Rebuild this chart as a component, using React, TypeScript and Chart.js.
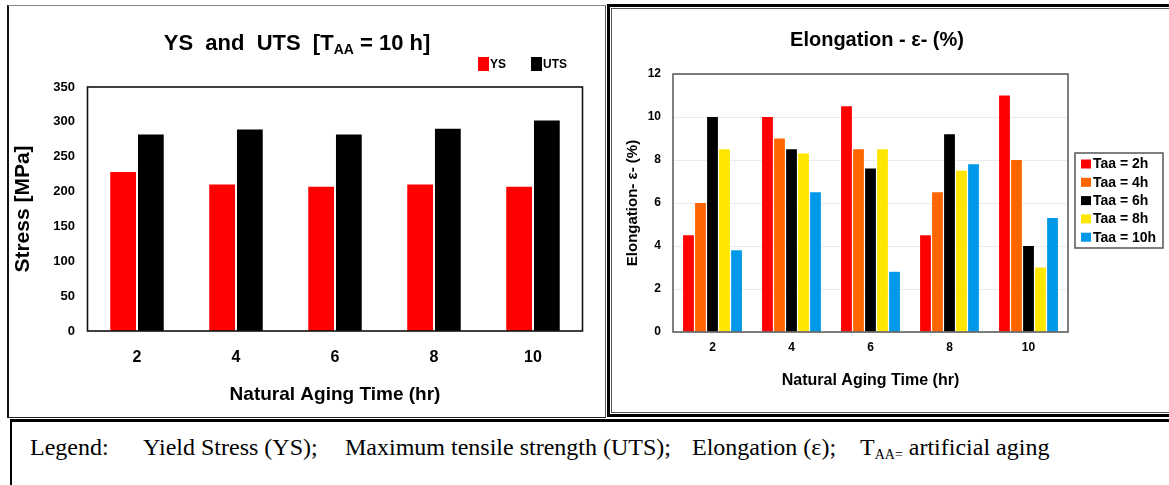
import React, { useEffect, useRef } from "react";
import { Chart, registerables } from "chart.js";

Chart.register(...registerables);

const FONT = "'Liberation Sans', Arial, Helvetica, sans-serif";
const SERIF = "'Liberation Serif', 'Times New Roman', serif";

// ---------- data ----------
const categories = ["2", "4", "6", "8", "10"];

const ysValues = [228, 210, 207, 210, 207];
const utsValues = [282, 289, 282, 290, 302];

const elongLabels = ["Taa = 2h", "Taa = 4h", "Taa = 6h", "Taa = 8h", "Taa = 10h"];
const elong2h = [4.5, 10, 10.5, 4.5, 11];
const elong4h = [6, 9, 8.5, 6.5, 8];
const elong6h = [10, 8.5, 7.6, 9.2, 4];
const elong8h = [8.5, 8.3, 8.5, 7.5, 3];
const elong10h = [3.8, 6.5, 2.8, 7.8, 5.3];
const elongColors = ["#ff0000", "#ff6600", "#000000", "#ffe600", "#0098e8"];

// ---------- plugins ----------
const panelTitlePlugin = {
  id: "panelTitle",
  afterDraw(chart: any, _args: any, o: any) {
    const ctx = chart.ctx as CanvasRenderingContext2D;
    const parts = o.parts as { text: string; size: number; dy?: number }[];
    if (!parts) return;
    ctx.save();
    ctx.fillStyle = "#000";
    ctx.textBaseline = "alphabetic";
    ctx.textAlign = "left";
    let total = 0;
    const widths = parts.map((p) => {
      ctx.font = `bold ${p.size}px ${FONT}`;
      const w = ctx.measureText(p.text).width;
      total += w;
      return w;
    });
    let x = o.x - total / 2;
    parts.forEach((p, i) => {
      ctx.font = `bold ${p.size}px ${FONT}`;
      ctx.fillText(p.text, x, o.y + (p.dy || 0));
      x += widths[i];
    });
    ctx.restore();
  },
};

const boxLegendPlugin = {
  id: "boxLegend",
  afterDraw(chart: any, _args: any, o: any) {
    const ctx = chart.ctx as CanvasRenderingContext2D;
    ctx.save();
    if (o.frame) {
      ctx.strokeStyle = o.frame.color;
      ctx.lineWidth = o.frame.width;
      ctx.strokeRect(o.frame.x, o.frame.y, o.frame.w, o.frame.h);
    }
    ctx.font = `bold ${o.fontSize}px ${FONT}`;
    ctx.textBaseline = "middle";
    ctx.textAlign = "left";
    chart.data.datasets.forEach((ds: any, i: number) => {
      const bx = o.x + i * o.stepX;
      const cy = o.y + i * o.stepY;
      ctx.fillStyle = ds.backgroundColor;
      ctx.fillRect(bx, cy - o.boxH / 2, o.boxW, o.boxH);
      ctx.fillStyle = "#000";
      ctx.fillText(ds.label, bx + o.boxW + o.gap, cy + 0.5);
    });
    ctx.restore();
  },
};

const plotFramePlugin = {
  id: "plotFrame",
  afterDatasetsDraw(chart: any, _args: any, o: any) {
    const ctx = chart.ctx as CanvasRenderingContext2D;
    const { left, top, right, bottom } = chart.chartArea;
    ctx.save();
    ctx.strokeStyle = o.color;
    ctx.lineWidth = o.width;
    ctx.strokeRect(left, top, right - left, bottom - top);
    ctx.restore();
  },
};

export default function App() {
  const leftRef = useRef<HTMLCanvasElement | null>(null);
  const rightRef = useRef<HTMLCanvasElement | null>(null);

  useEffect(() => {
    Chart.defaults.font.family = FONT;
    Chart.defaults.color = "#000";

    const left = new Chart(leftRef.current as HTMLCanvasElement, {
      type: "bar",
      data: {
        labels: categories,
        datasets: [
          { label: "YS", data: ysValues, backgroundColor: "#ff0000", barPercentage: 0.93, categoryPercentage: 0.56 },
          { label: "UTS", data: utsValues, backgroundColor: "#000000", barPercentage: 0.93, categoryPercentage: 0.56 },
        ],
      },
      plugins: [panelTitlePlugin, boxLegendPlugin, plotFramePlugin],
      options: {
        animation: false,
        responsive: true,
        maintainAspectRatio: false,
        events: [],
        layout: { padding: { left: 0, right: 22.5, top: 81, bottom: 0 } },
        plugins: {
          legend: { display: false },
          title: { display: false },
          tooltip: { enabled: false },
          panelTitle: {
            x: 288,
            y: 44,
            parts: [
              { text: "YS  and  UTS  [T", size: 22 },
              { text: "AA", size: 14, dy: 4 },
              { text: " = 10 h]", size: 22 },
            ],
          },
          boxLegend: { x: 469, y: 58, stepX: 53, stepY: 0, boxW: 11, boxH: 14, gap: 1, fontSize: 12 },
          plotFrame: { color: "#111", width: 1.6 },
        } as any,
        scales: {
          x: {
            grid: { display: false, drawTicks: false },
            border: { display: false },
            ticks: { color: "#000", font: { size: 16, weight: "bold" }, padding: 17 },
            title: {
              display: true,
              text: "Natural Aging Time (hr)",
              color: "#000",
              font: { size: 19, weight: "bold" },
              padding: { top: 0, bottom: 10.6 },
            },
            afterFit: (s: any) => {
              s.height = 86;
            },
          },
          y: {
            min: 0,
            max: 350,
            grid: { display: false, drawTicks: false },
            border: { display: false },
            ticks: { stepSize: 50, color: "#000", font: { size: 13, weight: "bold" }, padding: 12.5 },
            title: {
              display: true,
              text: "Stress [MPa]",
              color: "#000",
              font: { size: 21, weight: "bold" },
              padding: { top: 1.4, bottom: 0 },
            },
            afterFit: (s: any) => {
              s.width = 78.5;
            },
          },
        },
      } as any,
    });

    const elongSeries = [elong2h, elong4h, elong6h, elong8h, elong10h];
    const right = new Chart(rightRef.current as HTMLCanvasElement, {
      type: "bar",
      data: {
        labels: categories,
        datasets: elongSeries.map((d, i) => ({
          label: elongLabels[i],
          data: d,
          backgroundColor: elongColors[i],
          barPercentage: 0.9,
          categoryPercentage: 0.76,
        })),
      },
      plugins: [panelTitlePlugin, boxLegendPlugin, plotFramePlugin],
      options: {
        animation: false,
        responsive: true,
        maintainAspectRatio: false,
        events: [],
        layout: { padding: { left: 0, right: 101, top: 64, bottom: 0 } },
        plugins: {
          legend: { display: false },
          title: { display: false },
          tooltip: { enabled: false },
          panelTitle: { x: 263, y: 36, parts: [{ text: "Elongation - ε- (%)", size: 20 }] },
          boxLegend: {
            x: 467,
            y: 154,
            stepX: 0,
            stepY: 18.3,
            boxW: 10,
            boxH: 9,
            gap: 2,
            fontSize: 14,
            frame: { x: 461, y: 143, w: 88, h: 95, color: "#555", width: 1.5 },
          },
          plotFrame: { color: "#555", width: 1.5 },
        } as any,
        scales: {
          x: {
            grid: { display: false, drawTicks: false },
            border: { display: false },
            ticks: { color: "#000", font: { size: 12, weight: "bold" }, padding: 8.8 },
            title: {
              display: true,
              text: "Natural Aging Time (hr)",
              color: "#000",
              font: { size: 16, weight: "bold" },
              padding: { top: 0, bottom: 19.4 },
            },
            afterFit: (s: any) => {
              s.height = 78;
            },
          },
          y: {
            min: 0,
            max: 12,
            grid: { color: "#ebebeb", lineWidth: 1, drawTicks: false },
            border: { display: false },
            ticks: { stepSize: 2, color: "#000", font: { size: 12, weight: "bold" }, padding: 12 },
            title: {
              display: true,
              text: "Elongation- ε- (%)",
              color: "#000",
              font: { size: 15, weight: "bold" },
              padding: { top: 10, bottom: 0 },
            },
            afterFit: (s: any) => {
              s.width = 59;
            },
          },
        },
      } as any,
    });

    return () => {
      left.destroy();
      right.destroy();
    };
  }, []);

  const abs = (s: React.CSSProperties): React.CSSProperties => ({ position: "absolute", ...s });
  const legendText: React.CSSProperties = {
    position: "absolute",
    top: 435,
    fontFamily: SERIF,
    fontSize: 24,
    lineHeight: "24px",
    whiteSpace: "pre",
    color: "#000",
  };

  return (
    <div style={abs({ left: 0, top: 0, width: 1169, height: 485, overflow: "hidden", background: "#fff" })}>
      {/* left panel frame */}
      <div
        style={abs({
          left: 7,
          top: 5,
          width: 599,
          height: 413,
          boxSizing: "border-box",
          borderLeft: "2px solid #111",
          borderTop: "1px solid #888",
          borderRight: "1px solid #555",
          borderBottom: "1px solid #222",
        })}
      />
      <div style={abs({ left: 9, top: 6, width: 596, height: 411 })}>
        <canvas ref={leftRef} />
      </div>

      {/* right panel frame (double) */}
      <div style={abs({ left: 607, top: 4, width: 620, height: 413, boxSizing: "border-box", border: "3px solid #000" })} />
      <div style={abs({ left: 611, top: 8, width: 620, height: 405, boxSizing: "border-box", border: "1px solid #555" })} />
      <div style={abs({ left: 614, top: 10, width: 555, height: 400 })}>
        <canvas ref={rightRef} />
      </div>

      {/* bottom legend box */}
      <div
        style={abs({
          left: 10,
          top: 419,
          width: 1200,
          height: 100,
          boxSizing: "border-box",
          borderLeft: "2px solid #000",
          borderTop: "3px solid #000",
        })}
      />
      <span style={{ ...legendText, left: 30 }}>Legend:</span>
      <span style={{ ...legendText, left: 143 }}>Yield Stress (YS);</span>
      <span style={{ ...legendText, left: 345 }}>Maximum tensile strength (UTS);</span>
      <span style={{ ...legendText, left: 692 }}>Elongation (ε);</span>
      <span style={{ ...legendText, left: 860 }}>
        T<span style={{ fontSize: 14, verticalAlign: "-4px" }}>AA=</span> artificial aging
      </span>
    </div>
  );
}
